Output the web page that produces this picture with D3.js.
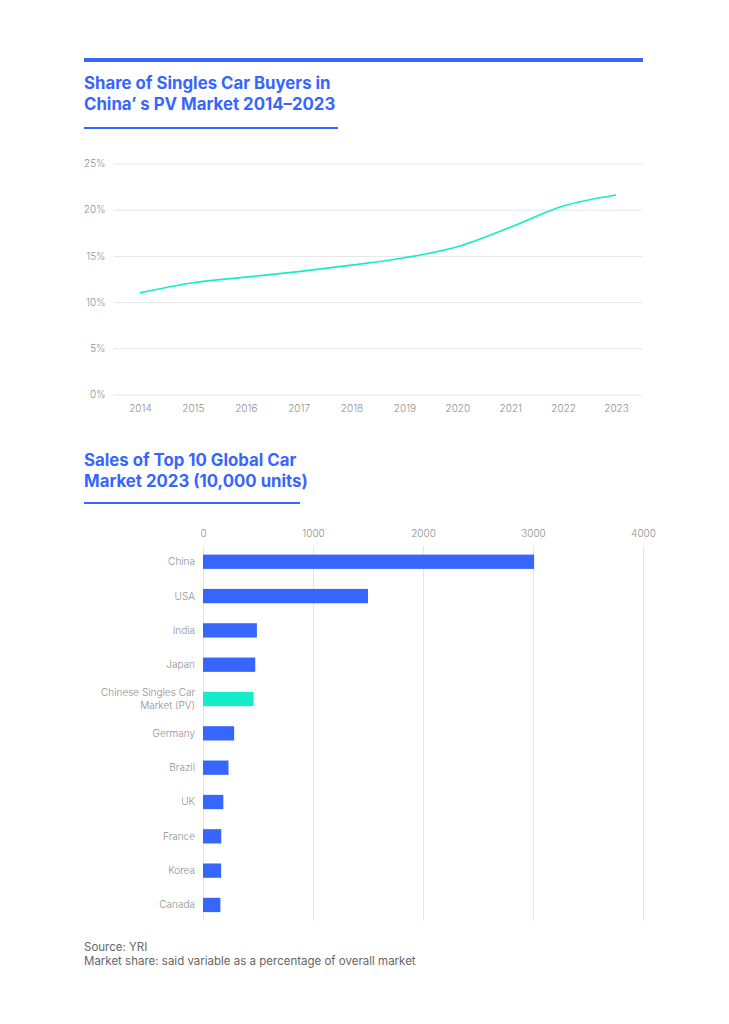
<!DOCTYPE html>
<html>
<head>
<meta charset="utf-8">
<script src="https://cdn.jsdelivr.net/npm/d3@7"></script>
<style>
  body { margin: 0; background: #fff; }
  text { font-family: Inter, "Noto Sans", sans-serif; }
</style>
</head>
<body>
<div id="chart"></div>
<script>
// line chart data: share of singles among PV buyers
const years = ["2014", "2015", "2016", "2017", "2018", "2019", "2020", "2021", "2022", "2023"];
const singlesShare = [11.0, 12.1, 12.7, 13.3, 14.0, 14.8, 16.0, 18.1, 20.4, 21.6];
const shareTicks = [0, 5, 10, 15, 20, 25];

// bar chart data: 2023 sales, 10,000 units
const markets = ["China", "USA", "India", "Japan", "Chinese Singles Car Market (PV)", "Germany", "Brazil", "UK", "France", "Korea", "Canada"];
const marketSales = [3010, 1500, 490, 475, 460, 283, 232, 185, 166, 165, 158];
const salesTicks = [0, 1000, 2000, 3000, 4000];

const blue = "#3766ff";
const teal = "#15ecc9";
const W = 729, H = 1024;

const svg = d3.select("#chart").append("svg")
    .attr("width", W)
    .attr("height", H);

svg.append("rect").attr("width", W).attr("height", H).attr("fill", "#fff");

// header bar
svg.append("rect")
    .attr("x", 84).attr("y", 58)
    .attr("width", 559).attr("height", 4)
    .attr("fill", blue);

function title(lines, y0, ulineY, ulineW) {
    const t = svg.append("text")
        .attr("x", 84).attr("y", y0)
        .attr("fill", blue)
        .attr("font-size", "16.8px")
        .attr("font-weight", 700);
    lines.forEach((l, i) => {
        t.append("tspan").attr("x", 84).attr("dy", i ? 20.5 : 0).text(l);
    });
    svg.append("rect")
        .attr("x", 84).attr("y", ulineY)
        .attr("width", ulineW).attr("height", 2)
        .attr("fill", blue);
}

title(["Share of Singles Car Buyers in", "China’ s PV Market 2014–2023"], 89, 127, 254);

// ---- line chart ----
const x = d3.scalePoint()
    .domain(years)
    .range([113.5, 642.5])
    .padding(0.5);

const y = d3.scaleLinear()
    .domain([0, 25])
    .range([394.5, 163.5]);

const lineG = svg.append("g");

lineG.append("g")
    .attr("transform", "translate(113.5,0)")
    .call(d3.axisLeft(y).tickValues(shareTicks).tickSize(-529).tickFormat(d => d + "%"))
    .call(g => g.select(".domain").remove())
    .call(g => g.selectAll(".tick line").attr("stroke", "#e6e6e6"))
    .call(g => g.selectAll(".tick text")
        .attr("x", -8)
        .attr("fill", "#8f8f8f")
        .attr("font-size", "10px")
        .attr("font-weight", 300));

lineG.append("g")
    .attr("transform", "translate(0,394.5)")
    .call(d3.axisBottom(x).tickSize(0).tickPadding(10))
    .call(g => g.select(".domain").remove())
    .call(g => g.selectAll(".tick text")
        .attr("fill", "#8f8f8f")
        .attr("font-size", "10px")
        .attr("font-weight", 300));

const line = d3.line()
    .x((d, i) => x(years[i]))
    .y(d => y(d))
    .curve(d3.curveMonotoneX);

lineG.append("path")
    .datum(singlesShare)
    .attr("d", line)
    .attr("fill", "none")
    .attr("stroke", teal)
    .attr("stroke-width", 1.6);

// ---- bar chart ----
title(["Sales of Top 10 Global Car", "Market 2023 (10,000 units)"], 466, 502, 216);

const bx = d3.scaleLinear()
    .domain([0, 4000])
    .range([203, 643]);

const by = d3.scaleBand()
    .domain(markets)
    .range([546, 920.7])
    .paddingInner(0.583)
    .paddingOuter(0.25);

const barG = svg.append("g");

barG.append("g")
    .attr("transform", "translate(0,546)")
    .call(d3.axisTop(bx).tickValues(salesTicks).tickSize(-374.7).tickPadding(9).tickFormat(d3.format("d")))
    .call(g => g.select(".domain").remove())
    .call(g => g.selectAll(".tick line").attr("stroke", "#e6e6e6"))
    .call(g => g.selectAll(".tick text")
        .attr("fill", "#8f8f8f")
        .attr("font-size", "10px")
        .attr("font-weight", 300));

barG.selectAll("rect.bar")
    .data(markets)
    .join("rect")
    .attr("class", "bar")
    .attr("x", bx(0))
    .attr("y", d => by(d))
    .attr("width", (d, i) => bx(marketSales[i]) - bx(0))
    .attr("height", by.bandwidth())
    .attr("fill", d => d.startsWith("Chinese") ? teal : blue);

// category labels, long one wrapped on two lines
const labels = barG.selectAll("text.cat")
    .data(markets)
    .join("text")
    .attr("class", "cat")
    .attr("x", 195)
    .attr("y", d => by(d) + by.bandwidth() / 2)
    .attr("text-anchor", "end")
    .attr("fill", "#8f8f8f")
    .attr("font-size", "10px")
    .attr("font-weight", 300);

labels.each(function(d) {
    const t = d3.select(this);
    if (d.startsWith("Chinese")) {
        t.append("tspan").attr("x", 195).attr("dy", "-0.3em").text("Chinese Singles Car");
        t.append("tspan").attr("x", 195).attr("dy", "1.3em").text("Market (PV)");
    } else {
        t.attr("dy", "0.35em").text(d);
    }
});

// footer
const foot = svg.append("text")
    .attr("x", 84).attr("y", 951)
    .attr("fill", "#666")
    .attr("font-size", "11.5px");
foot.append("tspan").attr("x", 84).text("Source: YRI");
foot.append("tspan").attr("x", 84).attr("dy", 14).text("Market share: said variable as a percentage of overall market");
</script>
</body>
</html>
